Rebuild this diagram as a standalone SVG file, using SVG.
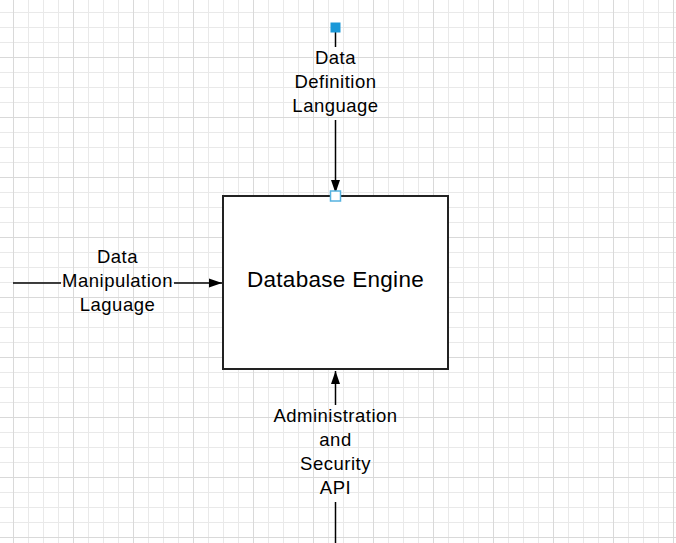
<svg xmlns="http://www.w3.org/2000/svg" width="676" height="543" viewBox="0 0 676 543">
  <style>
    .lbl { font-family: "Liberation Sans", Arial, sans-serif; font-size: 18.5px; letter-spacing: 0.5px; fill: #000; text-anchor: middle; }
    .title { font-family: "Liberation Sans", Arial, sans-serif; font-size: 22.5px; letter-spacing: 0.3px; fill: #000; text-anchor: middle; }
    .conn { stroke: #000; stroke-width: 1.5; fill: none; }
    .box { fill: #fff; stroke: #222; stroke-width: 2; }
  </style>
  <defs>
    <pattern id="grid" patternUnits="userSpaceOnUse" x="13" y="-3" width="60" height="60">
      <path d="M15.5,0V60M30.5,0V60M45.5,0V60M0,15.5H60M0,30.5H60M0,45.5H60" stroke="#e9e9e9" stroke-width="1" fill="none"/>
      <path d="M0.5,0V60M0,0.5H60" stroke="#d9d9d9" stroke-width="1" fill="none"/>
    </pattern>
    <marker id="arrow" markerUnits="userSpaceOnUse" markerWidth="13" markerHeight="10" refX="13" refY="5" orient="auto">
      <path d="M0,0.5 L13,5 L0,9.5 Z" fill="#000"/>
    </marker>
  </defs>
  <rect x="0" y="0" width="676" height="543" fill="#fff"/>
  <rect x="0" y="0" width="676" height="543" fill="url(#grid)"/>

  <g id="database-engine">
    <rect class="box" x="223" y="196" width="225" height="173"/>
    <text class="title" x="335.5" y="287">Database Engine</text>
  </g>

  <g id="connectors">
    <g id="conn-ddl">
      <line class="conn" x1="335.5" y1="30" x2="335.5" y2="47"/>
      <line class="conn" x1="335.5" y1="120" x2="335.5" y2="193" marker-end="url(#arrow)"/>
      <rect x="330.5" y="22.5" width="10" height="10" fill="#1a98d8"/>
      <rect x="330.5" y="191" width="10" height="10" fill="#fff" stroke="#56b2e0" stroke-width="1.5"/>
      <text class="lbl" x="335.5" y="63.5">Data</text>
      <text class="lbl" x="335.5" y="87.5">Definition</text>
      <text class="lbl" x="335.5" y="111.5">Language</text>
    </g>
    <g id="conn-dml">
      <line class="conn" x1="13" y1="283" x2="61" y2="283"/>
      <line class="conn" x1="174" y1="283" x2="222" y2="283" marker-end="url(#arrow)"/>
      <text class="lbl" x="117.5" y="262.5">Data</text>
      <text class="lbl" x="117.5" y="286.5">Manipulation</text>
      <text class="lbl" x="117.5" y="310.5">Laguage</text>
    </g>
    <g id="conn-admin">
      <line class="conn" x1="335.5" y1="543" x2="335.5" y2="502"/>
      <line class="conn" x1="335.5" y1="405" x2="335.5" y2="371" marker-end="url(#arrow)"/>
      <text class="lbl" x="335.5" y="421.5">Administration</text>
      <text class="lbl" x="335.5" y="445.5">and</text>
      <text class="lbl" x="335.5" y="469.5">Security</text>
      <text class="lbl" x="335.5" y="493.5">API</text>
    </g>
  </g>
</svg>
